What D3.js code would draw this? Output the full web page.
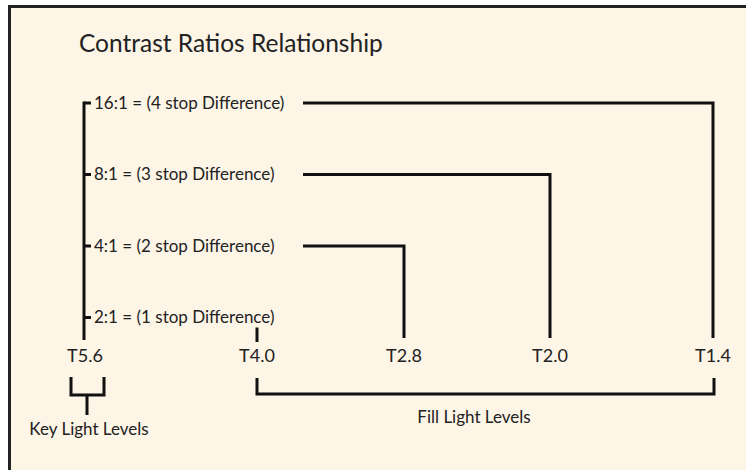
<!DOCTYPE html>
<html>
<head>
<meta charset="utf-8">
<script src="https://cdn.jsdelivr.net/npm/d3@7"></script>
<style>
  html, body { margin: 0; padding: 0; background: #ffffff; }
  svg { display: block; }
</style>
</head>
<body>
<svg id="chart" width="746" height="470"></svg>
<script>
// ---- data ----
const title = "Contrast Ratios Relationship";
const fStops = ["T5.6", "T4.0", "T2.8", "T2.0", "T1.4"];
const ratios = ["2:1", "4:1", "8:1", "16:1"];
const stopDiffs = [1, 2, 3, 4];
const keyLabel = "Key Light Levels";
const fillLabel = "Fill Light Levels";

// ---- layout ----
const W = 746, H = 470;
const font = "Lato, 'Open Sans', sans-serif";
const ink = "#111";
const textCol = "#222";
const lw = 3;

const svg = d3.select("#chart");

// frame
svg.append("rect")
  .attr("x", 9.5).attr("y", 6.5)
  .attr("width", W + 20).attr("height", H + 20)
  .attr("fill", "#fdf5e6")
  .attr("stroke", "#222").attr("stroke-width", lw);

// title
svg.append("text")
  .attr("x", 79).attr("y", 52)
  .attr("font-family", font).attr("font-size", 24.5)
  .attr("fill", textCol)
  .text(title);

// scales
const x = d3.scaleLinear()
  .domain(d3.range(fStops.length))
  .range([85, 257, 404, 550, 713]);
const y = d3.scaleLinear().domain([1, 4]).range([317.5, 103]);

const spineX = 84;
const labelX = 94;
const connStart = 303;
const colTop = 340;       // bottom of vertical connectors
const tLabelY = 362;

const g = svg.append("g")
  .attr("fill", "none")
  .attr("stroke", ink)
  .attr("stroke-width", lw);

// spine
g.append("line")
  .attr("x1", spineX).attr("x2", spineX)
  .attr("y1", y(4) - lw / 2).attr("y2", colTop);

// ticks + labels
stopDiffs.forEach((s, i) => {
  g.append("line")
    .attr("x1", spineX).attr("x2", spineX + 7)
    .attr("y1", y(s)).attr("y2", y(s));
  svg.append("text")
    .attr("x", labelX).attr("y", y(s))
    .attr("dy", "0.35em")
    .attr("font-family", font).attr("font-size", 17)
    .attr("fill", textCol)
    .text(`${ratios[i]} = (${s} stop Difference)`);
});

// connectors from each ratio to its fill stop
stopDiffs.forEach(s => {
  const xs = x(s);
  if (s === 1) {
    g.append("line")
      .attr("x1", xs).attr("x2", xs)
      .attr("y1", y(s) + 10).attr("y2", colTop + 2);
  } else {
    g.append("path")
      .attr("stroke-linejoin", "miter")
      .attr("d", d3.line()([[connStart, y(s)], [xs, y(s)], [xs, colTop - 2]]));
  }
});

// f-stop labels
svg.selectAll("text.tl")
  .data(fStops)
  .join("text")
  .attr("class", "tl")
  .attr("x", (d, i) => x(i))
  .attr("y", tLabelY)
  .attr("text-anchor", "middle")
  .attr("font-family", font).attr("font-size", 18)
  .attr("fill", textCol)
  .text(d => d);

// key light bracket
const kx = x(0);
g.append("path")
  .attr("d", d3.line()([[kx - 14, 377], [kx - 14, 395], [kx + 19, 395], [kx + 19, 377]]));
g.append("line")
  .attr("x1", kx + 2).attr("x2", kx + 2)
  .attr("y1", 395).attr("y2", 415);
svg.append("text")
  .attr("x", kx + 4).attr("y", 435)
  .attr("text-anchor", "middle")
  .attr("font-family", font).attr("font-size", 17)
  .attr("fill", textCol)
  .text(keyLabel);

// fill light bracket
const f0 = x(1), f1 = x(fStops.length - 1);
g.append("path")
  .attr("d", d3.line()([[f0, 378], [f0, 394], [f1 + 1, 394], [f1 + 1, 378]]));
svg.append("text")
  .attr("x", 474).attr("y", 423)
  .attr("text-anchor", "middle")
  .attr("font-family", font).attr("font-size", 17)
  .attr("fill", textCol)
  .text(fillLabel);
</script>
</body>
</html>
